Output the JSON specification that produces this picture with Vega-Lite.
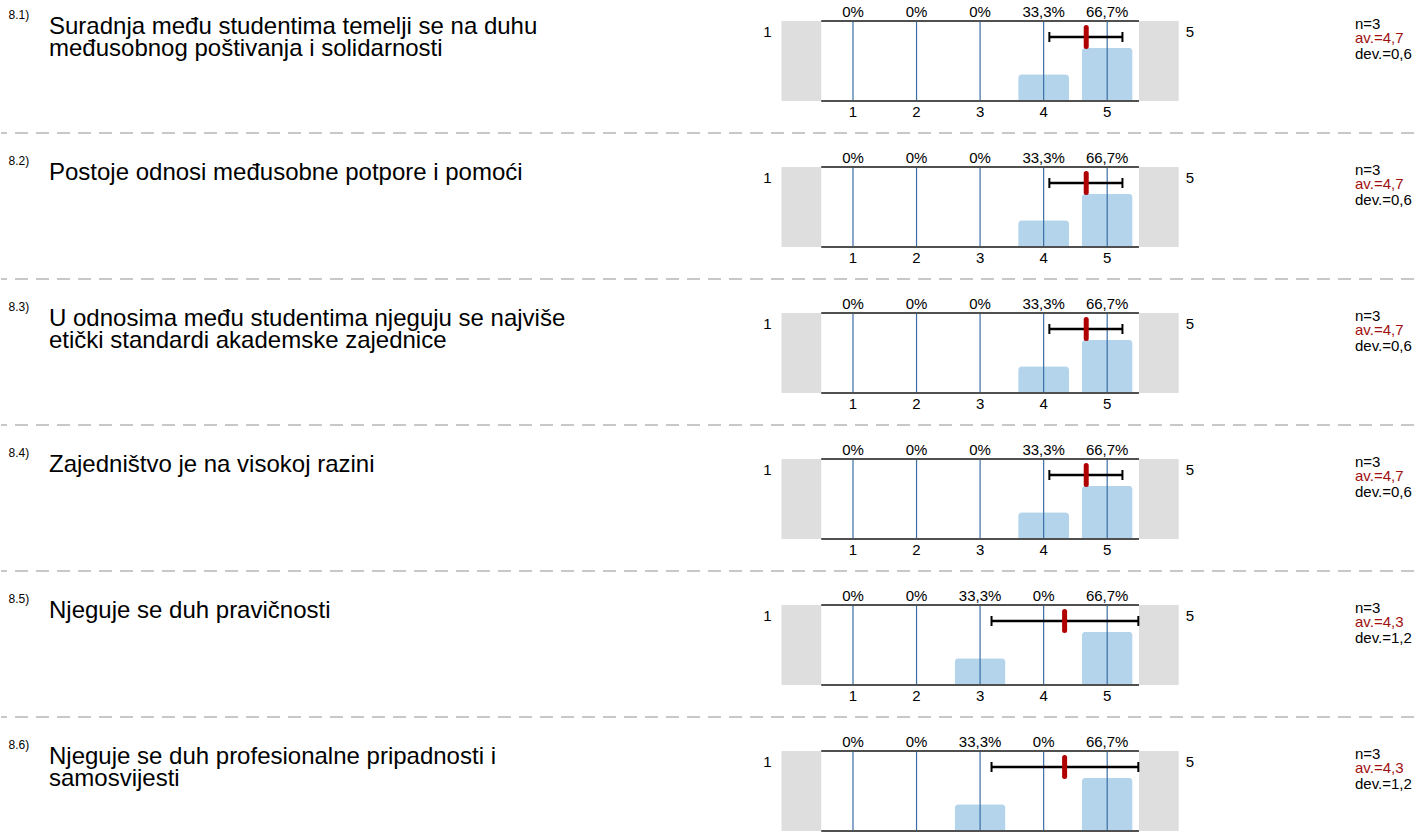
{
  "$schema": "https://vega.github.io/schema/vega-lite/v6.json",
  "padding": {"top": 5, "left": 0, "right": 0, "bottom": 0},
  "autosize": {"type": "pad"},
  "background": "white",
  "bounds": "flush",
  "config": {
    "view": {"stroke": null},
    "axis": {"disable": true},
    "font": "Liberation Sans",
    "text": {"font": "Liberation Sans", "color": "#000000"}
  },
  "datasets": {
    "stats": [
      {"q": "8.1", "num": "8.1)", "question": "Suradnja među studentima temelji se na duhu\nmeđusobnog poštivanja i solidarnosti", "n_label": "n=3", "av_label": "av.=4,7", "dev_label": "dev.=0,6", "av": 4.67, "lo": 4.09, "hi": 5.24},
      {"q": "8.2", "num": "8.2)", "question": "Postoje odnosi međusobne potpore i pomoći", "n_label": "n=3", "av_label": "av.=4,7", "dev_label": "dev.=0,6", "av": 4.67, "lo": 4.09, "hi": 5.24},
      {"q": "8.3", "num": "8.3)", "question": "U odnosima među studentima njeguju se najviše\netički standardi akademske zajednice", "n_label": "n=3", "av_label": "av.=4,7", "dev_label": "dev.=0,6", "av": 4.67, "lo": 4.09, "hi": 5.24},
      {"q": "8.4", "num": "8.4)", "question": "Zajedništvo je na visokoj razini", "n_label": "n=3", "av_label": "av.=4,7", "dev_label": "dev.=0,6", "av": 4.67, "lo": 4.09, "hi": 5.24},
      {"q": "8.5", "num": "8.5)", "question": "Njeguje se duh pravičnosti", "n_label": "n=3", "av_label": "av.=4,3", "dev_label": "dev.=1,2", "av": 4.33, "lo": 3.18, "hi": 5.49},
      {"q": "8.6", "num": "8.6)", "question": "Njeguje se duh profesionalne pripadnosti i\nsamosvijesti", "n_label": "n=3", "av_label": "av.=4,3", "dev_label": "dev.=1,2", "av": 4.33, "lo": 3.18, "hi": 5.49}
    ],
    "dist": [
      {"q": "8.1", "cat": 1, "pct": 0, "label": "0%"},
      {"q": "8.1", "cat": 2, "pct": 0, "label": "0%"},
      {"q": "8.1", "cat": 3, "pct": 0, "label": "0%"},
      {"q": "8.1", "cat": 4, "pct": 33.3, "label": "33,3%"},
      {"q": "8.1", "cat": 5, "pct": 66.7, "label": "66,7%"},
      {"q": "8.2", "cat": 1, "pct": 0, "label": "0%"},
      {"q": "8.2", "cat": 2, "pct": 0, "label": "0%"},
      {"q": "8.2", "cat": 3, "pct": 0, "label": "0%"},
      {"q": "8.2", "cat": 4, "pct": 33.3, "label": "33,3%"},
      {"q": "8.2", "cat": 5, "pct": 66.7, "label": "66,7%"},
      {"q": "8.3", "cat": 1, "pct": 0, "label": "0%"},
      {"q": "8.3", "cat": 2, "pct": 0, "label": "0%"},
      {"q": "8.3", "cat": 3, "pct": 0, "label": "0%"},
      {"q": "8.3", "cat": 4, "pct": 33.3, "label": "33,3%"},
      {"q": "8.3", "cat": 5, "pct": 66.7, "label": "66,7%"},
      {"q": "8.4", "cat": 1, "pct": 0, "label": "0%"},
      {"q": "8.4", "cat": 2, "pct": 0, "label": "0%"},
      {"q": "8.4", "cat": 3, "pct": 0, "label": "0%"},
      {"q": "8.4", "cat": 4, "pct": 33.3, "label": "33,3%"},
      {"q": "8.4", "cat": 5, "pct": 66.7, "label": "66,7%"},
      {"q": "8.5", "cat": 1, "pct": 0, "label": "0%"},
      {"q": "8.5", "cat": 2, "pct": 0, "label": "0%"},
      {"q": "8.5", "cat": 3, "pct": 33.3, "label": "33,3%"},
      {"q": "8.5", "cat": 4, "pct": 0, "label": "0%"},
      {"q": "8.5", "cat": 5, "pct": 66.7, "label": "66,7%"},
      {"q": "8.6", "cat": 1, "pct": 0, "label": "0%"},
      {"q": "8.6", "cat": 2, "pct": 0, "label": "0%"},
      {"q": "8.6", "cat": 3, "pct": 33.3, "label": "33,3%"},
      {"q": "8.6", "cat": 4, "pct": 0, "label": "0%"},
      {"q": "8.6", "cat": 5, "pct": 66.7, "label": "66,7%"}
    ]
  },
  "data": {"name": "dist"},
  "transform": [
    {"lookup": "q", "from": {"data": {"name": "stats"}, "key": "q", "fields": ["num", "question", "n_label", "av_label", "dev_label", "av", "lo", "hi"]}}
  ],
  "facet": {"row": {"field": "q", "type": "nominal", "header": null}},
  "spacing": {"row": 66},
  "spec": {
    "width": 1420,
    "height": 80,
    "layer": [
      {
        "transform": [{"filter": "datum.cat == 1"}],
        "mark": {"type": "rule", "color": "#c8c8c8", "strokeWidth": 2, "strokeDash": [13, 8], "strokeDashOffset": 14},
        "encoding": {
          "y": {"datum": -40, "type": "quantitative", "scale": {"domain": [0, 100], "nice": false, "zero": false}}
        }
      },
      {
        "transform": [{"filter": "datum.cat == 1"}],
        "mark": {"type": "rect", "color": "#dedede"},
        "encoding": {
          "x": {"datum": -0.125, "type": "quantitative", "scale": {"domain": [-12.328125, 9.859375], "nice": false, "zero": false}},
          "x2": {"datum": 0.5},
          "y": {"datum": 0, "type": "quantitative", "scale": {"domain": [0, 100], "nice": false, "zero": false}},
          "y2": {"datum": 100}
        }
      },
      {
        "transform": [{"filter": "datum.cat == 1"}],
        "mark": {"type": "rect", "color": "#dedede"},
        "encoding": {
          "x": {"datum": 5.5, "type": "quantitative", "scale": {"domain": [-12.328125, 9.859375], "nice": false, "zero": false}},
          "x2": {"datum": 6.125},
          "y": {"datum": 0, "type": "quantitative", "scale": {"domain": [0, 100], "nice": false, "zero": false}},
          "y2": {"datum": 100}
        }
      },
      {
        "transform": [{"filter": "datum.pct > 0"}],
        "mark": {"type": "bar", "orient": "vertical", "size": 51, "color": "#b4d4ec", "cornerRadiusTopLeft": 4, "cornerRadiusTopRight": 4},
        "encoding": {
          "x": {"field": "cat", "type": "quantitative", "scale": {"domain": [-12.328125, 9.859375], "nice": false, "zero": false}},
          "y": {"field": "pct", "type": "quantitative", "scale": {"domain": [0, 100], "nice": false, "zero": false}}
        }
      },
      {
        "mark": {"type": "rule", "color": "#3a6ea5", "strokeWidth": 1.2},
        "encoding": {
          "x": {"field": "cat", "type": "quantitative", "scale": {"domain": [-12.328125, 9.859375], "nice": false, "zero": false}},
          "y": {"datum": 0, "type": "quantitative", "scale": {"domain": [0, 100], "nice": false, "zero": false}},
          "y2": {"datum": 100}
        }
      },
      {
        "transform": [{"filter": "datum.cat == 1"}],
        "mark": {"type": "rule", "color": "#505050", "strokeWidth": 2},
        "encoding": {
          "x": {"datum": 0.5, "type": "quantitative", "scale": {"domain": [-12.328125, 9.859375], "nice": false, "zero": false}},
          "x2": {"datum": 5.5},
          "y": {"datum": 100, "type": "quantitative", "scale": {"domain": [0, 100], "nice": false, "zero": false}}
        }
      },
      {
        "transform": [{"filter": "datum.cat == 1"}],
        "mark": {"type": "rule", "color": "#505050", "strokeWidth": 2},
        "encoding": {
          "x": {"datum": 0.5, "type": "quantitative", "scale": {"domain": [-12.328125, 9.859375], "nice": false, "zero": false}},
          "x2": {"datum": 5.5},
          "y": {"datum": 0, "type": "quantitative", "scale": {"domain": [0, 100], "nice": false, "zero": false}}
        }
      },
      {
        "mark": {"type": "text", "align": "center", "baseline": "alphabetic", "fontSize": 15, "dy": -4},
        "encoding": {
          "x": {"field": "cat", "type": "quantitative", "scale": {"domain": [-12.328125, 9.859375], "nice": false, "zero": false}},
          "y": {"datum": 100, "type": "quantitative", "scale": {"domain": [0, 100], "nice": false, "zero": false}},
          "text": {"field": "label", "type": "nominal"}
        }
      },
      {
        "mark": {"type": "text", "align": "center", "baseline": "alphabetic", "fontSize": 15, "dy": 16},
        "encoding": {
          "x": {"field": "cat", "type": "quantitative", "scale": {"domain": [-12.328125, 9.859375], "nice": false, "zero": false}},
          "y": {"datum": 0, "type": "quantitative", "scale": {"domain": [0, 100], "nice": false, "zero": false}},
          "text": {"field": "cat", "type": "nominal"}
        }
      },
      {
        "transform": [{"filter": "datum.cat == 1"}],
        "mark": {"type": "text", "align": "right", "baseline": "alphabetic", "fontSize": 15, "dx": -10},
        "encoding": {
          "x": {"datum": -0.125, "type": "quantitative", "scale": {"domain": [-12.328125, 9.859375], "nice": false, "zero": false}},
          "y": {"datum": 80, "type": "quantitative", "scale": {"domain": [0, 100], "nice": false, "zero": false}},
          "text": {"value": "1"}
        }
      },
      {
        "transform": [{"filter": "datum.cat == 1"}],
        "mark": {"type": "text", "align": "left", "baseline": "alphabetic", "fontSize": 15, "dx": 7},
        "encoding": {
          "x": {"datum": 6.125, "type": "quantitative", "scale": {"domain": [-12.328125, 9.859375], "nice": false, "zero": false}},
          "y": {"datum": 80, "type": "quantitative", "scale": {"domain": [0, 100], "nice": false, "zero": false}},
          "text": {"value": "5"}
        }
      },
      {
        "transform": [{"filter": "datum.cat == 1"}],
        "mark": {"type": "rule", "color": "#000000", "strokeWidth": 2.5},
        "encoding": {
          "x": {"field": "lo", "type": "quantitative", "scale": {"domain": [-12.328125, 9.859375], "nice": false, "zero": false}},
          "x2": {"field": "hi"},
          "y": {"datum": 80, "type": "quantitative", "scale": {"domain": [0, 100], "nice": false, "zero": false}}
        }
      },
      {
        "transform": [{"filter": "datum.cat == 1"}],
        "mark": {"type": "rule", "color": "#000000", "strokeWidth": 2},
        "encoding": {
          "x": {"field": "lo", "type": "quantitative", "scale": {"domain": [-12.328125, 9.859375], "nice": false, "zero": false}},
          "y": {"datum": 86.25, "type": "quantitative", "scale": {"domain": [0, 100], "nice": false, "zero": false}},
          "y2": {"datum": 73.75}
        }
      },
      {
        "transform": [{"filter": "datum.cat == 1"}],
        "mark": {"type": "rule", "color": "#000000", "strokeWidth": 2},
        "encoding": {
          "x": {"field": "hi", "type": "quantitative", "scale": {"domain": [-12.328125, 9.859375], "nice": false, "zero": false}},
          "y": {"datum": 86.25, "type": "quantitative", "scale": {"domain": [0, 100], "nice": false, "zero": false}},
          "y2": {"datum": 73.75}
        }
      },
      {
        "transform": [{"filter": "datum.cat == 1"}],
        "mark": {"type": "rule", "color": "#b00000", "strokeWidth": 5, "strokeCap": "round"},
        "encoding": {
          "x": {"field": "av", "type": "quantitative", "scale": {"domain": [-12.328125, 9.859375], "nice": false, "zero": false}},
          "y": {"datum": 91.9, "type": "quantitative", "scale": {"domain": [0, 100], "nice": false, "zero": false}},
          "y2": {"datum": 68.1}
        }
      },
      {
        "transform": [{"filter": "datum.cat == 1"}],
        "mark": {"type": "text", "align": "left", "baseline": "alphabetic", "fontSize": 12},
        "encoding": {
          "x": {"value": 7.5},
          "y": {"datum": 101.9, "type": "quantitative", "scale": {"domain": [0, 100], "nice": false, "zero": false}},
          "text": {"field": "num", "type": "nominal"}
        }
      },
      {
        "transform": [{"filter": "datum.cat == 1"}],
        "mark": {"type": "text", "align": "left", "baseline": "alphabetic", "fontSize": 24, "lineHeight": 22, "lineBreak": "\n"},
        "encoding": {
          "x": {"value": 48},
          "y": {"datum": 84.1, "type": "quantitative", "scale": {"domain": [0, 100], "nice": false, "zero": false}},
          "text": {"field": "question", "type": "nominal"}
        }
      },
      {
        "transform": [{"filter": "datum.cat == 1"}],
        "mark": {"type": "text", "align": "left", "baseline": "alphabetic", "fontSize": 15},
        "encoding": {
          "x": {"value": 1354},
          "y": {"datum": 90.6, "type": "quantitative", "scale": {"domain": [0, 100], "nice": false, "zero": false}},
          "text": {"field": "n_label", "type": "nominal"}
        }
      },
      {
        "transform": [{"filter": "datum.cat == 1"}],
        "mark": {"type": "text", "align": "left", "baseline": "alphabetic", "fontSize": 15, "color": "#a01010"},
        "encoding": {
          "x": {"value": 1354},
          "y": {"datum": 71.9, "type": "quantitative", "scale": {"domain": [0, 100], "nice": false, "zero": false}},
          "text": {"field": "av_label", "type": "nominal"}
        }
      },
      {
        "transform": [{"filter": "datum.cat == 1"}],
        "mark": {"type": "text", "align": "left", "baseline": "alphabetic", "fontSize": 15},
        "encoding": {
          "x": {"value": 1354},
          "y": {"datum": 53.1, "type": "quantitative", "scale": {"domain": [0, 100], "nice": false, "zero": false}},
          "text": {"field": "dev_label", "type": "nominal"}
        }
      }
    ]
  }
}
